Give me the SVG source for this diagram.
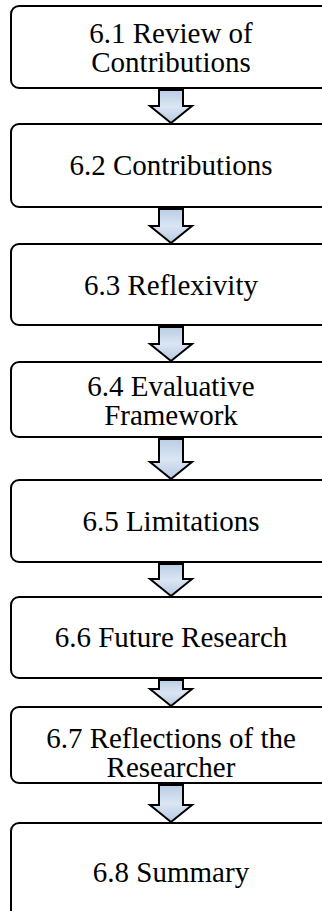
<svg xmlns="http://www.w3.org/2000/svg" width="322" height="911" viewBox="0 0 322 911">
<style>
.box{fill:#fff;stroke:#000;stroke-width:2}
.lbl{font-family:'Liberation Serif','Times New Roman','DejaVu Serif',serif;font-size:29px;fill:#000;text-anchor:middle}
.arr{fill:url(#ag);stroke:#000;stroke-width:2;stroke-linejoin:miter}
</style>
<defs>
<linearGradient id="ag" x1="0" y1="0" x2="0" y2="1">
<stop offset="0" stop-color="#b9cde5"/>
<stop offset="0.5" stop-color="#dbe6f3"/>
<stop offset="1" stop-color="#b4c8e2"/>
</linearGradient>
</defs>
<rect width="322" height="911" fill="#fff"/>
<g id="connectors">
<path class="arr" d="M159,90 H183 V106 H192 L171,123 L150,106 H159 Z"/>
<path class="arr" d="M159,209 H183 V226 H192 L171,243 L150,226 H159 Z"/>
<path class="arr" d="M159,327 H183 V344 H192 L171,361 L150,344 H159 Z"/>
<path class="arr" d="M159,439 H183 V462 H192 L171,479 L150,462 H159 Z"/>
<path class="arr" d="M159,564 H183 V579 H192 L171,596 L150,579 H159 Z"/>
<path class="arr" d="M159,680 H183 V689 H192 L171,706 L150,689 H159 Z"/>
<path class="arr" d="M159,785 H183 V805 H192 L171,822 L150,805 H159 Z"/>
</g>
<g id="n1"><rect class="box" x="11" y="6" width="321" height="82" rx="8"/><text class="lbl" font-family="Liberation Serif, serif" x="171" y="43">6.1 Review of</text><text class="lbl" font-family="Liberation Serif, serif" x="171" y="72">Contributions</text></g>
<g id="n2"><rect class="box" x="11" y="124" width="321" height="83" rx="8"/><text class="lbl" font-family="Liberation Serif, serif" x="171" y="175">6.2 Contributions</text></g>
<g id="n3"><rect class="box" x="11" y="244" width="321" height="81" rx="8"/><text class="lbl" font-family="Liberation Serif, serif" x="171" y="295">6.3 Reflexivity</text></g>
<g id="n4"><rect class="box" x="11" y="362" width="321" height="75" rx="8"/><text class="lbl" font-family="Liberation Serif, serif" x="171" y="396">6.4 Evaluative</text><text class="lbl" font-family="Liberation Serif, serif" x="171" y="425">Framework</text></g>
<g id="n5"><rect class="box" x="11" y="480" width="321" height="82" rx="8"/><text class="lbl" font-family="Liberation Serif, serif" x="171" y="531">6.5 Limitations</text></g>
<g id="n6"><rect class="box" x="11" y="597" width="321" height="81" rx="8"/><text class="lbl" font-family="Liberation Serif, serif" x="171" y="647">6.6 Future Research</text></g>
<g id="n7"><rect class="box" x="11" y="707" width="321" height="76" rx="8"/><text class="lbl" font-family="Liberation Serif, serif" x="171" y="748">6.7 Reflections of the</text><text class="lbl" font-family="Liberation Serif, serif" x="171" y="777">Researcher</text></g>
<g id="n8"><rect class="box" x="11" y="823" width="321" height="110" rx="8"/><text class="lbl" font-family="Liberation Serif, serif" x="171" y="882">6.8 Summary</text></g>
</svg>
